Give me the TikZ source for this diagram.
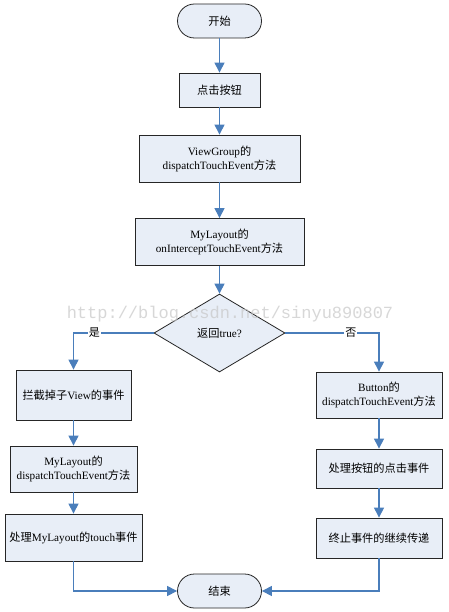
\documentclass[tikz,border=0pt]{standalone}
\usepackage{fontspec}
\setmainfont{Liberation Serif}
\newfontfamily\cjk{Noto Sans CJK SC}
\newfontfamily\wmfont{Liberation Mono}
\usetikzlibrary{shapes.geometric,arrows.meta}
\newcommand{\zh}[1]{{\cjk #1}}
\definecolor{boxfill}{HTML}{E8EEF7}
\definecolor{flow}{HTML}{4A7EBB}
\tikzset{
  base/.style={draw=black!85, fill=boxfill, line width=0.8pt, font=\fontsize{11.2}{14}\selectfont, align=center, inner sep=0pt},
  procbox/.style={base, rectangle},
  termbox/.style={base, rectangle, rounded corners=17pt, minimum width=84pt, minimum height=34pt},
  decbox/.style={base, diamond, aspect=1.68, minimum width=131pt, minimum height=78pt},
  conn/.style={draw=flow, line width=1.1pt, -{Triangle[length=10pt,width=10pt]}},
  lbl/.style={fill=white, inner sep=1pt, font=\fontsize{11}{13}\selectfont}
}
\begin{document}
\begin{tikzpicture}[x=1pt,y=-1pt]
\fill[white] (0,0) rectangle (448,612);
\useasboundingbox (0,0) rectangle (448,612);
\node[termbox] (start) at (219.5,21) {\zh{开始}};
\node[procbox, minimum width=81pt, minimum height=34pt] (click) at (219.5,90) {\zh{点击按钮}};
\node[procbox, minimum width=161pt, minimum height=47pt] (vg) at (219.5,158.5) {ViewGroup\zh{的}\\dispatchTouchEvent\zh{方法}};
\node[procbox, minimum width=169pt, minimum height=47pt] (ml) at (219.5,242) {MyLayout\zh{的}\\onInterceptTouchEvent\zh{方法}};
\node[decbox] (dec) at (219.5,333) {\zh{返回}true?};
\node[procbox, minimum width=115pt, minimum height=50pt] (l1) at (73.5,395) {\zh{拦截掉子}View\zh{的事件}};
\node[procbox, minimum width=127pt, minimum height=46pt] (l2) at (73.5,469) {MyLayout\zh{的}\\dispatchTouchEvent\zh{方法}};
\node[procbox, minimum width=137pt, minimum height=47pt] (l3) at (73.5,537.5) {\zh{处理}MyLayout\zh{的}touch\zh{事件}};
\node[procbox, minimum width=126pt, minimum height=46pt] (r1) at (379,395) {Button\zh{的}\\dispatchTouchEvent\zh{方法}};
\node[procbox, minimum width=126pt, minimum height=39pt] (r2) at (379,468.5) {\zh{处理按钮的点击事件}};
\node[procbox, minimum width=126pt, minimum height=40pt] (r3) at (379,538) {\zh{终止事件的继续传递}};
\node[termbox] (end) at (219.5,591) {\zh{结束}};
\draw[conn] (start) -- (click);
\draw[conn] (click) -- (vg);
\draw[conn] (vg) -- (ml);
\draw[conn] (ml) -- (dec);
\draw[conn] (dec.west) -| node[lbl, pos=0.37] {\zh{是}} (l1.north);
\draw[conn] (dec.east) -| node[lbl, pos=0.35] {\zh{否}} (r1.north);
\draw[conn] (l1) -- (l2);
\draw[conn] (l2) -- (l3);
\draw[conn] (r1) -- (r2);
\draw[conn] (r2) -- (r3);
\draw[conn] (l3.south) |- (end.west);
\draw[conn] (r3.south) |- (end.east);
\node[text=black!22, opacity=0.7, font=\wmfont\fontsize{17}{20}\selectfont, inner sep=0pt] (wm) at (230,314) {http://blog.csdn.net/sinyu890807};
\end{tikzpicture}
\end{document}
